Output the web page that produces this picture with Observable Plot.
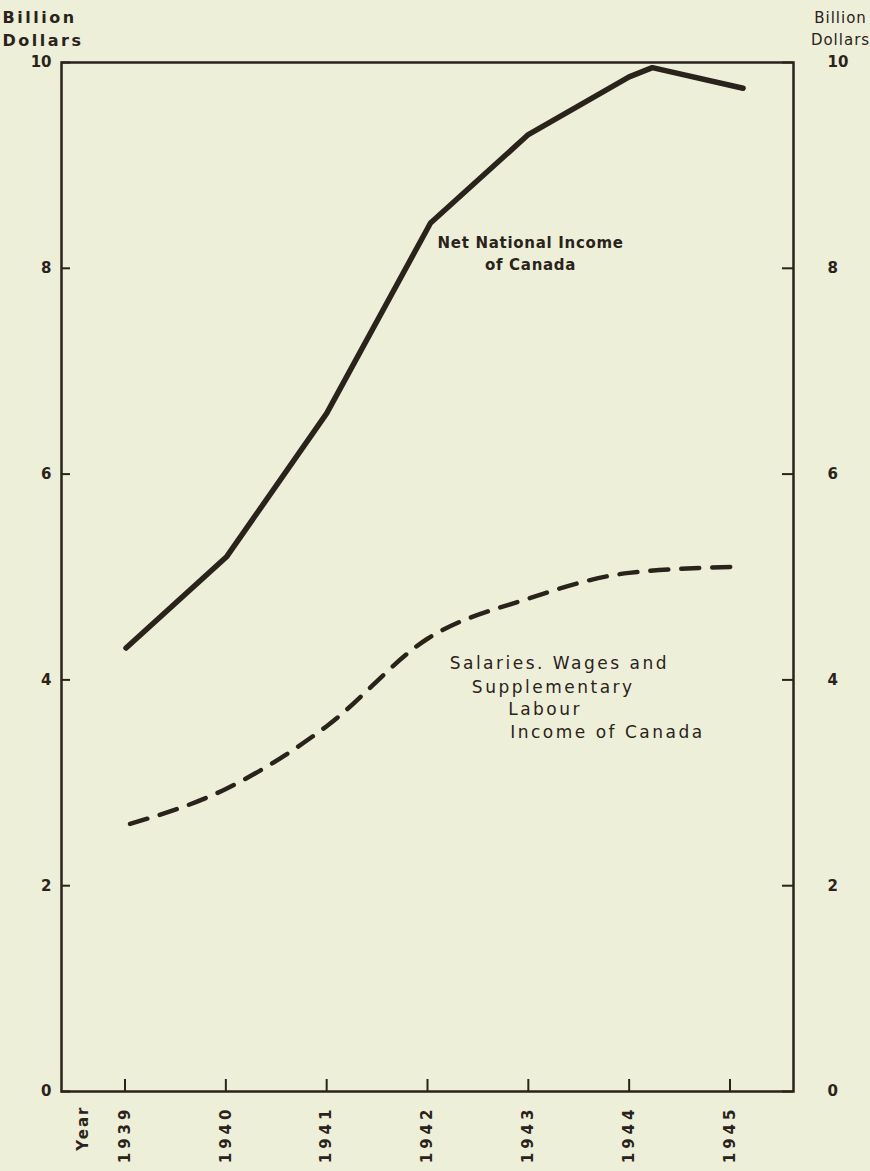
<!DOCTYPE html>
<html>
<head>
<meta charset="utf-8">
<script src="https://cdn.jsdelivr.net/npm/d3@7"></script>
<script src="https://cdn.jsdelivr.net/npm/@observablehq/plot@0.6"></script>
<style>
  html, body { margin: 0; padding: 0; background: #eeefd9; }
  #chart { width: 870px; height: 1171px; }
  g[aria-label="x-axis tick label"] { letter-spacing: 4px; }
  text[aria-label="year-label"] { letter-spacing: 2px; }
  text[aria-label="title-left"] { letter-spacing: 2.5px; }
  text[aria-label="title-right"] { letter-spacing: 1px; }
  text[aria-label="nni-label"] { letter-spacing: 0.7px; }
  text[aria-label="wage-label"] { letter-spacing: 2.5px; }
</style>
</head>
<body>
<div id="chart"></div>
<script>
// Net National Income of Canada (billion dollars)
const nniYears  = [1939.01, 1940.01, 1941.0, 1942.03, 1943.0, 1944.0, 1944.23, 1945.13];
const nniValues = [4.31,    5.20,    6.59,   8.44,    9.30,   9.86,   9.95,    9.75];

// Salaries, Wages and Supplementary Labour Income of Canada (billion dollars)
const wageYears  = [1939.05, 1940.0, 1941.0, 1942.0, 1943.0, 1944.0, 1945.1];
const wageValues = [2.60,    2.94,   3.55,   4.40,   4.79,   5.04,   5.10];

const xTicks = [1939, 1940, 1941, 1942, 1943, 1944, 1945];
const yTicks = [0, 2, 4, 6, 8, 10];

const nniLabel = ["Net National Income", "of Canada"];
const nniLabelX = [1942.10, 1942.57];
const nniLabelY = [8.24, 8.03];

const wageLabel = ["Salaries. Wages and", "Supplementary", "Labour", "Income of Canada"];
const wageLabelX = [1942.22, 1942.44, 1942.80, 1942.82];
const wageLabelY = [4.16, 3.93, 3.71, 3.49];

const ink = "#2a231b";
const W = 870, H = 1171, ML = 61, MR = 77, MT = 62, MB = 80;
const innerW = W - ML - MR, innerH = H - MT - MB;

const nni = nniYears.map((y, i) => ({year: y, value: nniValues[i]}));
const wage = wageYears.map((y, i) => ({year: y, value: wageValues[i]}));
const nniLab = nniLabel.map((t, i) => ({t, x: nniLabelX[i], y: nniLabelY[i]}));
const wageLab = wageLabel.map((t, i) => ({t, x: wageLabelX[i], y: wageLabelY[i]}));

const chart = Plot.plot({
  width: W,
  height: H,
  marginLeft: ML,
  marginRight: MR,
  marginTop: MT,
  marginBottom: MB,
  style: {background: "#eeefd9", color: ink, fontFamily: "DejaVu Sans, sans-serif"},
  x: {domain: [1938.37, 1945.63]},
  y: {domain: [0, 10]},
  marks: [
    Plot.frame({stroke: ink, strokeWidth: 2.5}),
    // inward ticks
    Plot.tickY(yTicks, {y: d => d, insetRight: innerW - 9, stroke: ink, strokeWidth: 2}),
    Plot.tickY(yTicks, {y: d => d, insetLeft: innerW - 11, stroke: ink, strokeWidth: 2}),
    Plot.tickX(xTicks, {x: d => d, insetTop: innerH - 12, stroke: ink, strokeWidth: 2}),
    // tick labels
    Plot.axisY({anchor: "left", ticks: yTicks, tickSize: 0, tickPadding: 10, tickFormat: d => d,
      label: null, fontSize: 15, fontWeight: "bold", fill: ink}),
    Plot.axisY({anchor: "right", ticks: yTicks, tickSize: 0, tickPadding: 34, tickFormat: d => d,
      label: null, fontSize: 15, fontWeight: "bold", fill: ink}),
    Plot.axisX({anchor: "bottom", ticks: xTicks, tickSize: 0, tickPadding: 14, tickRotate: -90,
      tickFormat: d => String(d), label: null, fontSize: 15, fontWeight: "bold", fill: ink}),
    Plot.text(["Year"], {x: 1938.59, y: 0, text: d => d, rotate: -90, textAnchor: "end", dy: 14,
      fontSize: 15, fontWeight: "bold", fill: ink, ariaLabel: () => "year-label"}),
    // axis titles
    Plot.text(["Billion\nDollars"], {frameAnchor: "top-left", text: d => d, dx: -59, dy: -55,
      textAnchor: "start", lineAnchor: "top", lineHeight: 1.4, fontSize: 16, fontWeight: "bold",
      fill: ink, ariaLabel: () => "title-left"}),
    Plot.text(["Billion\nDollars"], {frameAnchor: "top-right", text: d => d, dx: 47, dy: -55,
      textAnchor: "middle", lineAnchor: "top", lineHeight: 1.45, fontSize: 15, fill: ink,
      ariaLabel: () => "title-right"}),
    // series
    Plot.line(nni, {x: "year", y: "value", stroke: ink, strokeWidth: 5.5, strokeLinecap: "round", strokeLinejoin: "round"}),
    Plot.line(wage, {x: "year", y: "value", stroke: ink, strokeWidth: 4.5, strokeDasharray: "18,13",
      strokeLinecap: "round", curve: "monotone-x"}),
    // annotations
    Plot.text(nniLab, {x: "x", y: "y", text: "t", textAnchor: "start", fontSize: 15, fontWeight: "bold",
      fill: ink, ariaLabel: () => "nni-label"}),
    Plot.text(wageLab, {x: "x", y: "y", text: "t", textAnchor: "start", fontSize: 17, fontWeight: 500,
      fill: ink, ariaLabel: () => "wage-label"})
  ]
});
document.getElementById("chart").appendChild(chart);
</script>
</body>
</html>
